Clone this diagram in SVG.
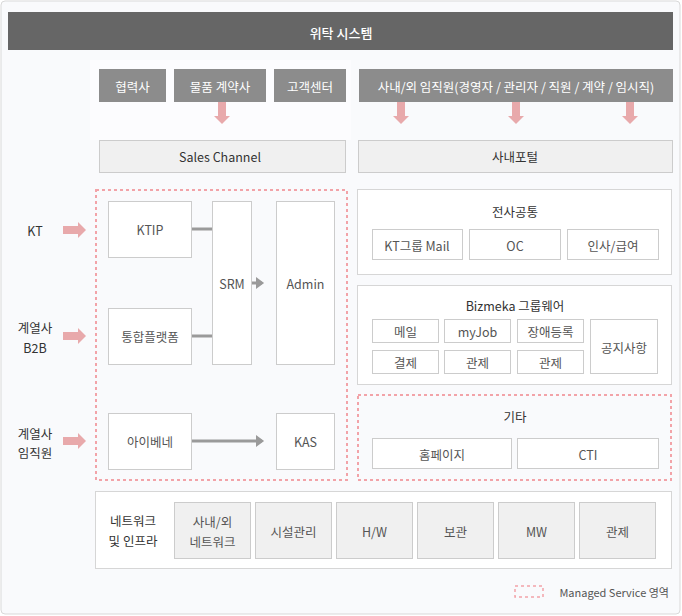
<svg xmlns="http://www.w3.org/2000/svg" width="682" height="616" viewBox="0 0 682 616">
<defs>
<style>
text{font-family:"Noto Sans CJK KR","Malgun Gothic","Noto Sans",sans-serif;font-size:12.5px;text-anchor:middle;dominant-baseline:central}
.hd{fill:#8c8c8c}
.wt{fill:#fff}
.bar{fill:#f0f0f0;stroke:#cccccc;stroke-width:1}
.nd{fill:#fff;stroke:#cccccc;stroke-width:1}
.pn{fill:#fff;stroke:#d6d6d6;stroke-width:1}
.ms{fill:none;stroke:#f2a3a8;stroke-width:2;stroke-dasharray:3 3}
.t{fill:#555}
.d{fill:#333}
.pa{fill:#e8a9ab}
.ln{stroke:#9a9a9a;stroke-width:3;fill:none}
</style>
<marker id="ah" markerWidth="4" markerHeight="4" refX="2" refY="2" orient="auto" markerUnits="strokeWidth"><path d="M0,0 L2.7,2 L0,4 z" fill="#9a9a9a"/></marker>
</defs>
<rect x="1" y="1" width="679" height="613" rx="4" fill="#f9fafc" stroke="#d9d9d9"/>
<rect x="90" y="60" width="261" height="80" fill="#fcfcfe"/>
<g id="title"><rect x="8" y="12" width="665" height="38" fill="#666666"/><text x="341" y="32" class="wt" style="font-size:13px;font-weight:500">위탁 시스템</text></g>
<g id="h1"><rect x="99" y="69" width="67" height="33" class="hd"/><text x="132.5" y="86" class="wt">협력사</text></g>
<g id="h2"><rect x="174" y="69" width="92" height="33" class="hd"/><text x="220" y="86" class="wt">물품 계약사</text></g>
<g id="h3"><rect x="274" y="69" width="72" height="33" class="hd"/><text x="310" y="86" class="wt">고객센터</text></g>
<g id="h4"><rect x="359" y="69" width="314" height="33" class="hd"/><text x="516" y="86" class="wt">사내/외 임직원(경영자 / 관리자 / 직원 / 계약 / 임시직)</text></g>
<g id="sales"><rect x="99.5" y="140.5" width="246" height="32" class="bar"/><text x="220" y="156.5" class="d">Sales Channel</text></g>
<g id="portal"><rect x="358.5" y="140.5" width="314" height="32" class="bar"/><text x="515" y="156.5" class="d">사내포털</text></g>
<g id="lbl-kt"><text x="35" y="230" class="d">KT</text></g>
<g id="lbl-b2b"><text x="35" y="327" class="d">계열사</text><text x="35" y="347" class="d">B2B</text></g>
<g id="lbl-emp"><text x="35" y="433" class="d">계열사</text><text x="35" y="452" class="d">임직원</text></g>
<g id="managed"><rect x="96" y="190" width="251" height="290" class="ms"/></g>
<g id="ktip"><rect x="108.5" y="201.5" width="83" height="56" class="nd"/><text x="150" y="229" class="t">KTIP</text></g>
<g id="srm"><rect x="212.5" y="201.5" width="39" height="163" class="nd"/><text x="232" y="283" class="t">SRM</text></g>
<g id="admin"><rect x="276.5" y="201.5" width="58" height="163" class="nd"/><text x="305.5" y="283" class="t">Admin</text></g>
<g id="platform"><rect x="108.5" y="308.5" width="83" height="56" class="nd"/><text x="150" y="336" class="t">통합플랫폼</text></g>
<g id="ibene"><rect x="108.5" y="413.5" width="83" height="56" class="nd"/><text x="150" y="441" class="t">아이베네</text></g>
<g id="kas"><rect x="276.5" y="413.5" width="58" height="56" class="nd"/><text x="305.5" y="441" class="t">KAS</text></g>
<g id="common"><rect x="357.5" y="189.5" width="314" height="85" class="pn"/><text x="515" y="211" class="d">전사공통</text>
<rect x="372.5" y="229.5" width="90" height="30" class="nd"/><text x="417" y="245" class="t">KT그룹 Mail</text>
<rect x="469.5" y="229.5" width="91" height="30" class="nd"/><text x="515" y="245" class="t">OC</text>
<rect x="567.5" y="229.5" width="91" height="30" class="nd"/><text x="613" y="245" class="t">인사/급여</text></g>
<g id="bizmeka"><rect x="357.5" y="285.5" width="314" height="99" class="pn"/><text x="515" y="305" class="d">Bizmeka 그룹웨어</text>
<rect x="372.5" y="319.5" width="66" height="23" class="nd"/><text x="405.5" y="331" class="t">메일</text>
<rect x="444.5" y="319.5" width="66" height="23" class="nd"/><text x="477.5" y="331" class="t">myJob</text>
<rect x="517.5" y="319.5" width="66" height="23" class="nd"/><text x="550.5" y="331" class="t">장애등록</text>
<rect x="372.5" y="350.5" width="66" height="23" class="nd"/><text x="405.5" y="362" class="t">결제</text>
<rect x="444.5" y="350.5" width="66" height="23" class="nd"/><text x="477.5" y="362" class="t">관제</text>
<rect x="517.5" y="350.5" width="66" height="23" class="nd"/><text x="550.5" y="362" class="t">관제</text>
<rect x="590.5" y="319.5" width="67" height="54" class="nd"/><text x="624" y="347" class="t">공지사항</text></g>
<g id="etc"><rect x="358" y="395" width="313" height="85" class="ms"/><text x="515" y="416" class="d">기타</text>
<rect x="372.5" y="438.5" width="139" height="30" class="nd"/><text x="442" y="454" class="t">홈페이지</text>
<rect x="517.5" y="438.5" width="141" height="30" class="nd"/><text x="588" y="454" class="t">CTI</text></g>
<g id="infra"><rect x="95.5" y="491.5" width="576" height="77" class="pn"/><text x="133" y="520" class="d">네트워크</text><text x="133" y="540" class="d">및 인프라</text>
<rect x="174.5" y="502.5" width="76" height="56" class="bar"/><text x="212.5" y="521" class="t">사내/외</text><text x="212.5" y="541" class="t">네트워크</text>
<rect x="255.5" y="502.5" width="76" height="56" class="bar"/><text x="293.5" y="531" class="t">시설관리</text>
<rect x="336.5" y="502.5" width="76" height="56" class="bar"/><text x="374.5" y="531" class="t">H/W</text>
<rect x="417.5" y="502.5" width="76" height="56" class="bar"/><text x="455.5" y="531" class="t">보관</text>
<rect x="498.5" y="502.5" width="76" height="56" class="bar"/><text x="536.5" y="531" class="t">MW</text>
<rect x="579.5" y="502.5" width="76" height="56" class="bar"/><text x="617.5" y="531" class="t">관제</text></g>
<g id="legend"><rect x="515" y="586" width="28" height="11" class="ms" style="stroke-width:1.5"/><text x="669" y="592" class="t" style="font-size:11px;text-anchor:end">Managed Service 영역</text></g>
<g id="connectors">
<path class="pa" d="M218,102 h8 v14 h4 l-8,8 l-8,-8 h4 z"/>
<path class="pa" d="M397,102 h8 v14 h4 l-8,8 l-8,-8 h4 z"/>
<path class="pa" d="M512,102 h8 v14 h4 l-8,8 l-8,-8 h4 z"/>
<path class="pa" d="M626,102 h8 v14 h4 l-8,8 l-8,-8 h4 z"/>
<path class="pa" d="M63,226 h15 v-4 l8,8 l-8,8 v-4 h-15 z"/>
<path class="pa" d="M63,332 h15 v-4 l8,8 l-8,8 v-4 h-15 z"/>
<path class="pa" d="M63,437 h15 v-4 l8,8 l-8,8 v-4 h-15 z"/>
<line class="ln" x1="192" y1="229" x2="212" y2="229"/>
<line class="ln" x1="192" y1="336" x2="212" y2="336"/>
<line class="ln" x1="252" y1="283" x2="262" y2="283" marker-end="url(#ah)"/>
<line class="ln" x1="192" y1="441" x2="262" y2="441" marker-end="url(#ah)"/>
</g>
</svg>
